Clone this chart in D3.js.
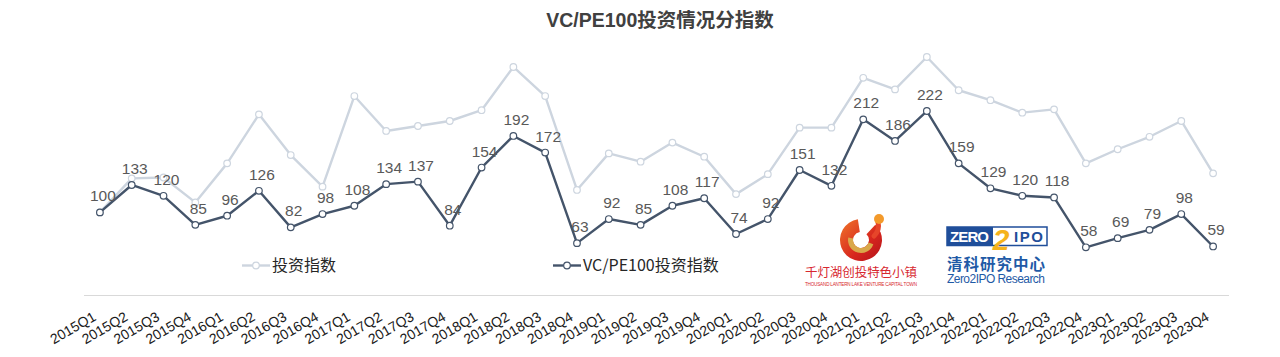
<!DOCTYPE html>
<head>
  <meta charset="utf-8">
  <script src="https://cdn.jsdelivr.net/npm/d3@7/dist/d3.min.js"></script>
  <style>
    body { margin:0; background:#fff; }
    svg { display:block; }
    .lbl { font: 15.5px "Liberation Sans", Arial, sans-serif; fill:#595959; }
    .xlbl { font: 14px "Liberation Sans", Arial, sans-serif; fill:#1a1a1a; }
    .leg { font: 16px "Noto Sans CJK SC", sans-serif; fill:#262626; }
  </style>
</head>
<body>
  <script>
    // quarters 2015Q1 .. 2023Q4
    var quarters = ["2015Q1","2015Q2","2015Q3","2015Q4","2016Q1","2016Q2","2016Q3","2016Q4",
                    "2017Q1","2017Q2","2017Q3","2017Q4","2018Q1","2018Q2","2018Q3","2018Q4",
                    "2019Q1","2019Q2","2019Q3","2019Q4","2020Q1","2020Q2","2020Q3","2020Q4",
                    "2021Q1","2021Q2","2021Q3","2021Q4","2022Q1","2022Q2","2022Q3","2022Q4",
                    "2023Q1","2023Q2","2023Q3","2023Q4"];

    // VC/PE100投资指数 (labelled)
    var vcpe = [100,133,120,85,96,126,82,98,108,134,137,84,154,192,172,63,
                92,85,108,117,74,92,151,132,212,186,222,159,129,120,118,58,
                69,79,98,59];

    // 投资指数 (not labelled)
    var invest = [100,141,142,112,159,218,169,131,240,198,204,210,223,275,240,127,
                  171,161,184,167,122,146,202,202,262,248,287,247,235,220,224,159,
                  176,191,210,147];

    var seriesNames = ["投资指数", "VC/PE100投资指数"];
    var darkColor = "#44546A", lightColor = "#CDD5DF";

    var width = 1280, height = 357;

    var svg = d3.select("body").append("svg")
      .attr("width", width)
      .attr("height", height);

    var x = d3.scaleBand().domain(quarters).range([84, 1229]);
    var y = d3.scaleLinear().domain([0, 300]).range([295.5, 46.2]);
    var cx = function(i) { return x(quarters[i]) + x.bandwidth() / 2; };

    // title
    svg.append("text")
      .attr("x", 660).attr("y", 27)
      .attr("text-anchor", "middle")
      .style("font", "bold 19.5px 'Liberation Sans', Arial, 'Noto Sans CJK SC', sans-serif")
      .style("fill", "#404040")
      .text("VC/PE100投资情况分指数");

    // axis line
    svg.append("line")
      .attr("x1", x.range()[0]).attr("x2", x.range()[1])
      .attr("y1", y(0)).attr("y2", y(0))
      .style("stroke", "#D9D9D9").style("stroke-width", 1);

    // x labels
    svg.selectAll(".xlbl")
      .data(quarters)
      .enter().append("text")
      .attr("class", "xlbl")
      .attr("text-anchor", "end")
      .attr("transform", function(d, i) { return "translate(" + (cx(i) - 3) + "," + (y(0) + 24) + ") rotate(-30)"; })
      .text(function(d) { return d; });

    var line = d3.line()
      .x(function(d, i) { return cx(i); })
      .y(function(d) { return y(d); });

    function drawSeries(vals, color, w) {
      svg.append("path")
        .datum(vals)
        .attr("d", line)
        .style("fill", "none")
        .style("stroke", color)
        .style("stroke-width", w)
        .style("stroke-linejoin", "round");
      svg.append("g").selectAll("circle")
        .data(vals)
        .enter().append("circle")
        .attr("cx", function(d, i) { return cx(i); })
        .attr("cy", function(d) { return y(d); })
        .attr("r", 3.3)
        .style("fill", "#fff")
        .style("stroke", color)
        .style("stroke-width", 1.2);
    }

    drawSeries(invest, lightColor, 2.4);
    drawSeries(vcpe, darkColor, 2.4);

    svg.append("g").selectAll("text")
      .data(vcpe)
      .enter().append("text")
      .attr("class", "lbl")
      .attr("text-anchor", "middle")
      .attr("x", function(d, i) { return cx(i) + 3; })
      .attr("y", function(d) { return y(d) - 11; })
      .text(function(d) { return d; });

    // legend
    var legend = [{name: seriesNames[0], color: lightColor, x: 242},
                  {name: seriesNames[1], color: darkColor, x: 553}];
    legend.forEach(function(l) {
      var g = svg.append("g").attr("transform", "translate(" + l.x + ",265.5)");
      g.append("line").attr("x1", 0).attr("x2", 28).attr("y1", 0).attr("y2", 0)
        .style("stroke", l.color).style("stroke-width", 2.4);
      g.append("circle").attr("cx", 14).attr("cy", 0).attr("r", 3.3)
        .style("fill", "#fff").style("stroke", l.color).style("stroke-width", 1.2);
      g.append("text").attr("class", "leg").attr("x", 30).attr("y", 5.5).text(l.name);
    });

    // logo: 千灯湖创投特色小镇
    var defs = svg.append("defs");
    var grad = defs.append("linearGradient").attr("id", "redg")
      .attr("x1", "0").attr("y1", "0").attr("x2", "1").attr("y2", "1");
    grad.append("stop").attr("offset", "0").attr("stop-color", "#F0762A");
    grad.append("stop").attr("offset", "0.6").attr("stop-color", "#D7261E");
    grad.append("stop").attr("offset", "1").attr("stop-color", "#B3141B");

    var logo = svg.append("g").attr("transform", "translate(861,240)");
    logo.append("path")
      .attr("d", d3.arc().innerRadius(8).outerRadius(21).startAngle(0.75).endAngle(2 * Math.PI - 0.15)())
      .style("fill", "url(#redg)");
    logo.append("path")
      .attr("d", d3.arc().innerRadius(8).outerRadius(13).startAngle(1.9).endAngle(4.9)())
      .style("fill", "#D9A84A");
    logo.append("path")
      .attr("d", "M13,-4 Q19,-10 17,-18")
      .style("fill", "none").style("stroke", "#E6452A").style("stroke-width", 5)
      .style("stroke-linecap", "round");
    logo.append("circle").attr("cx", 18).attr("cy", -21).attr("r", 5).style("fill", "#F39A2B");

    svg.append("text")
      .attr("x", 861).attr("y", 276.5).attr("text-anchor", "middle")
      .style("font", "12.5px 'Noto Sans CJK SC', sans-serif").style("fill", "#D7282F")
      .attr("textLength", 112)
      .text("千灯湖创投特色小镇");
    svg.append("text")
      .attr("x", 861).attr("y", 285.5).attr("text-anchor", "middle")
      .style("font", "4.6px 'Liberation Sans', Arial, sans-serif").style("fill", "#D7282F")
      .attr("textLength", 112)
      .text("THOUSAND LANTERN LAKE VENTURE CAPITAL TOWN");

    // logo: ZERO2IPO
    var z = svg.append("g");
    z.append("rect").attr("x", 947).attr("y", 227).attr("width", 100).attr("height", 18.5)
      .style("fill", "#fff").style("stroke", "#1F4E9A").style("stroke-width", 1.5);
    z.append("rect").attr("x", 947).attr("y", 227).attr("width", 46).attr("height", 18.5)
      .style("fill", "#1F4E9A");
    z.append("text").attr("x", 950).attr("y", 242)
      .style("font", "bold 15px 'Liberation Sans', Arial, sans-serif").style("fill", "#fff")
      .attr("textLength", 39)
      .text("ZERO");
    z.append("text").attr("x", 1001).attr("y", 250)
      .style("font", "bold italic 30px 'Liberation Sans', Arial, sans-serif").style("fill", "#F5B31C")
      .attr("text-anchor", "middle")
      .text("2");
    z.append("text").attr("x", 1014).attr("y", 242)
      .style("font", "bold 15px 'Liberation Sans', Arial, sans-serif").style("fill", "#1F4E9A")
      .attr("textLength", 29)
      .text("IPO");
    svg.append("text").attr("x", 996).attr("y", 269.5).attr("text-anchor", "middle")
      .style("font", "bold 15.5px 'Noto Sans CJK SC', sans-serif").style("fill", "#1F5AA6")
      .attr("textLength", 98)
      .text("清科研究中心");
    svg.append("text").attr("x", 996).attr("y", 283).attr("text-anchor", "middle")
      .style("font", "12px 'Liberation Sans', Arial, sans-serif").style("fill", "#1F5AA6")
      .attr("textLength", 98)
      .text("Zero2IPO Research");
  </script>
</body>
